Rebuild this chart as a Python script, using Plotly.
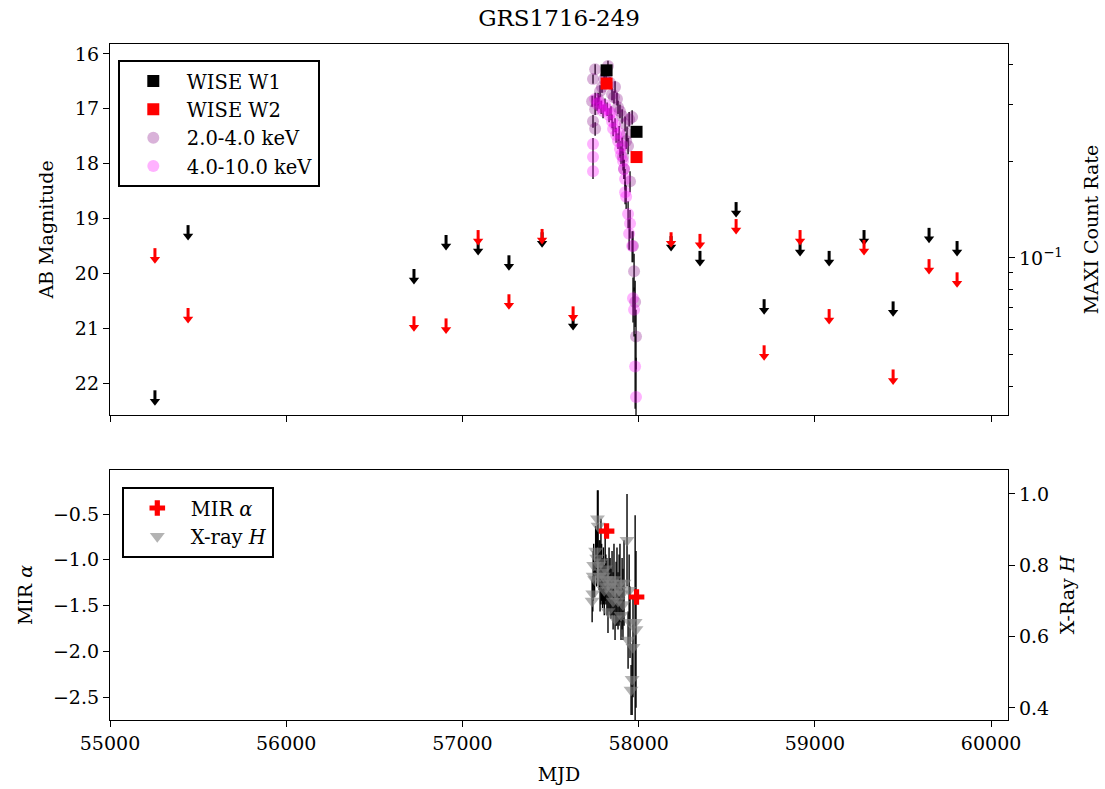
import plotly.graph_objects as go

FONT = "DejaVu Serif"

# ---------------- WISE upper limits (magnitudes) ----------------
ul_mjd = [55255, 55443, 56725, 56907, 57089, 57264, 57452, 57628, 58184,
          58348, 58553, 58712, 58916, 59081, 59279, 59444, 59648, 59807]
w1_ul = [22.33, 19.32, 20.12, 19.50, 19.59, 19.87, 19.45, 20.96, 19.52,
         19.79, 18.90, 20.67, 19.61, 19.79, 19.41, 20.71, 19.37, 19.61]
w2_ul = [19.74, 20.83, 20.98, 21.02, 19.41, 20.58, 19.39, 20.80, 19.45,
         19.48, 19.21, 21.51, 19.41, 20.85, 19.59, 21.95, 19.94, 20.18]

# ---------------- WISE detections ----------------
det_mjd = [57818, 57988]
w1_det = [16.30, 17.42]
w2_det = [16.54, 17.88]

# ---------------- MAXI 2-4 keV ----------------
soft_mjd = [57736, 57741, 57741, 57753, 57753, 57753, 57770, 57781, 57792, 57804,
            57815, 57826, 57838, 57849, 57860, 57866, 57877, 57883, 57894, 57906,
            57911, 57917, 57923, 57929, 57934, 57940, 57946, 57951, 57963, 57968,
            57974, 57980, 57985]
soft_rate = [0.307, 0.360, 0.266, 0.386, 0.290, 0.252, 0.312, 0.330, 0.340, 0.360,
             0.370, 0.395, 0.350, 0.323, 0.316, 0.340, 0.312, 0.294, 0.286, 0.276,
             0.206, 0.189, 0.261, 0.231, 0.243, 0.223, 0.270, 0.173, 0.274, 0.109,
             0.091, 0.073, 0.057]
soft_err = [0.012, 0.012, 0.012, 0.014, 0.012, 0.012, 0.014, 0.014, 0.014, 0.014,
            0.014, 0.015, 0.014, 0.014, 0.014, 0.014, 0.014, 0.014, 0.014, 0.014,
            0.013, 0.013, 0.014, 0.013, 0.013, 0.013, 0.014, 0.013, 0.014, 0.012,
            0.012, 0.012, 0.012]

# ---------------- MAXI 4-10 keV ----------------
hard_mjd = [57741, 57741, 57741, 57753, 57764, 57775, 57787, 57798, 57809, 57821,
            57832, 57843, 57849, 57855, 57866, 57872, 57883, 57889, 57894, 57900,
            57906, 57911, 57917, 57923, 57923, 57929, 57940, 57951, 57946, 57963,
            57968, 57974, 57980, 57985]
hard_rate = [0.226, 0.206, 0.186, 0.312, 0.301, 0.305, 0.294, 0.286, 0.299, 0.290,
             0.278, 0.282, 0.266, 0.252, 0.259, 0.241, 0.231, 0.244, 0.218, 0.209,
             0.224, 0.200, 0.189, 0.176, 0.160, 0.155, 0.137, 0.128, 0.119, 0.109,
             0.075, 0.069, 0.046, 0.037]
hard_err = [0.010, 0.010, 0.010, 0.014, 0.014, 0.014, 0.014, 0.014, 0.014, 0.014,
            0.014, 0.014, 0.013, 0.013, 0.013, 0.013, 0.013, 0.013, 0.013, 0.013,
            0.013, 0.013, 0.013, 0.013, 0.013, 0.013, 0.013, 0.013, 0.013, 0.012,
            0.012, 0.012, 0.012, 0.012]

# ---------------- MIR spectral index ----------------
alpha_mjd = [57818, 57988]
alpha_val = [-0.686, -1.407]
alpha_err = [0.02, 0.02]

# ---------------- X-ray hardness ----------------
h_mjd = [57736, 57740, 57742, 57745, 57750, 57756, 57762, 57766, 57770, 57776,
         57781, 57786, 57790, 57795, 57800, 57805, 57810, 57814, 57820, 57826,
         57832, 57838, 57843, 57849, 57855, 57860, 57866, 57872, 57877, 57883,
         57889, 57894, 57900, 57906, 57911, 57917, 57934, 57940, 57946, 57951,
         57957, 57963, 57968, 57980, 57985]
h_val = [0.70, 0.72, 0.77, 0.80, 0.76, 0.84, 0.82, 0.93, 0.91, 0.80,
         0.77, 0.81, 0.78, 0.75, 0.77, 0.73, 0.79, 0.76, 0.74, 0.67,
         0.76, 0.74, 0.72, 0.75, 0.70, 0.76, 0.65, 0.72, 0.74, 0.70,
         0.73, 0.75, 0.66, 0.72, 0.69, 0.75, 0.87, 0.59, 0.73, 0.64,
         0.45, 0.48, 0.57, 0.64, 0.62]
h_err = [0.06, 0.05, 0.07, 0.06, 0.05, 0.07, 0.08, 0.08, 0.10, 0.07,
         0.10, 0.12, 0.08, 0.07, 0.08, 0.07, 0.09, 0.07, 0.08, 0.06,
         0.09, 0.08, 0.07, 0.09, 0.08, 0.10, 0.06, 0.09, 0.11, 0.08,
         0.10, 0.11, 0.07, 0.10, 0.10, 0.12, 0.13, 0.08, 0.10, 0.10,
         0.07, 0.10, 0.14, 0.30, 0.22]

x_ticks = [55000, 56000, 57000, 58000, 59000, 60000]

FS = 19

fig = go.Figure()

# ---- top panel: MAXI on base (right, log) axis ----
fig.add_trace(go.Scatter(
    x=soft_mjd, y=soft_rate, mode="markers", name="2.0-4.0 keV",
    marker=dict(size=12, color="rgba(128,0,128,0.3)", line=dict(width=0)),
    error_y=dict(type="data", array=soft_err, color="black", thickness=1.3, width=0),
    xaxis="x", yaxis="y", legend="legend", legendrank=3))
fig.add_trace(go.Scatter(
    x=hard_mjd, y=hard_rate, mode="markers", name="4.0-10.0 keV",
    marker=dict(size=12, color="rgba(255,0,255,0.3)", line=dict(width=0)),
    error_y=dict(type="data", array=hard_err, color="black", thickness=1.3, width=0),
    xaxis="x", yaxis="y", legend="legend", legendrank=4))

# ---- WISE on magnitude axis (overlay, left) ----
stem = [0.2] * len(ul_mjd)
zero = [0] * len(ul_mjd)
fig.add_trace(go.Scatter(
    x=ul_mjd, y=w1_ul, mode="markers", showlegend=False,
    marker=dict(symbol="triangle-down", size=9, color="black"),
    error_y=dict(type="data", symmetric=False, array=zero, arrayminus=stem,
                 color="black", thickness=3, width=0),
    xaxis="x", yaxis="y2"))
fig.add_trace(go.Scatter(
    x=ul_mjd, y=w2_ul, mode="markers", showlegend=False,
    marker=dict(symbol="triangle-down", size=9, color="red"),
    error_y=dict(type="data", symmetric=False, array=zero, arrayminus=stem,
                 color="red", thickness=3, width=0),
    xaxis="x", yaxis="y2"))
fig.add_trace(go.Scatter(
    x=det_mjd, y=w1_det, mode="markers", name="WISE W1",
    marker=dict(symbol="square", size=12, color="black"),
    xaxis="x", yaxis="y2", legend="legend", legendrank=1))
fig.add_trace(go.Scatter(
    x=det_mjd, y=w2_det, mode="markers", name="WISE W2",
    marker=dict(symbol="square", size=12, color="red"),
    xaxis="x", yaxis="y2", legend="legend", legendrank=2))

# ---- bottom panel ----
fig.add_trace(go.Scatter(
    x=h_mjd, y=h_val, mode="markers", name="X-ray <i>H</i>",
    marker=dict(symbol="triangle-down", size=13, color="rgba(128,128,128,0.6)", line=dict(width=0)),
    error_y=dict(type="data", array=h_err, color="black", thickness=1.4, width=0),
    xaxis="x2", yaxis="y3", legend="legend2", legendrank=2))
fig.add_trace(go.Scatter(
    x=alpha_mjd, y=alpha_val, mode="markers", name="MIR <i>α</i>",
    marker=dict(symbol="cross", size=13, color="red", line=dict(width=0)),
    error_y=dict(type="data", array=alpha_err, color="red", thickness=1, width=0),
    xaxis="x2", yaxis="y4", legend="legend2", legendrank=1))

axis_common = dict(showgrid=False, zeroline=False, showline=True, linecolor="black",
                   linewidth=1.3, ticks="outside", ticklen=6, tickwidth=1.3,
                   automargin=False,
                   tickcolor="black", tickfont=dict(family=FONT, size=FS, color="black"))

W, H = 1105, 789
ml, mr, mt, mb = 110, 97, 44, 69
ph = H - mt - mb
top_dom = [(720 - 415) / ph, 1.0]
bot_dom = [0.0, (720 - 470) / ph]
tfont = dict(family=FONT, size=FS, color="black")
lfont = dict(family=FONT, size=19.5, color="black")

fig.update_layout(
    width=W, height=H,
    margin=dict(l=ml, r=mr, t=mt, b=mb, pad=0, autoexpand=False),
    paper_bgcolor="white", plot_bgcolor="white",
    font=dict(family=FONT, size=FS, color="black"),
    title=dict(text="GRS1716-249", x=0.5, xref="paper", xanchor="center",
               y=1 - 18 / H, yref="container", yanchor="middle",
               font=dict(family=FONT, size=23, color="black")),
    xaxis=dict(domain=[0, 1], anchor="y", range=[55000, 60096], tickvals=x_ticks,
               showticklabels=False, mirror=True, **axis_common),
    yaxis=dict(domain=top_dom, anchor="x", side="right", type="log",
               range=[-1.488, -0.335], tickvals=[0.1], ticktext=["10<sup>−1</sup>"],
               minor=dict(tickmode="array",
                          tickvals=[0.04, 0.05, 0.06, 0.07, 0.08, 0.09, 0.2, 0.3, 0.4],
                          ticks="outside", ticklen=3.5, tickwidth=1.1, tickcolor="black"),
               title=dict(text="MAXI Count Rate", standoff=22, font=tfont),
               **axis_common),
    yaxis2=dict(overlaying="y", anchor="x", side="left", range=[22.58, 15.82],
                tickvals=[16, 17, 18, 19, 20, 21, 22],
                title=dict(text="AB Magnitude", standoff=16, font=tfont),
                **axis_common),
    xaxis2=dict(domain=[0, 1], anchor="y3", range=[55000, 60096], tickvals=x_ticks,
                tickformat="d", mirror=True,
                title=dict(text="MJD", standoff=14, font=tfont),
                **axis_common),
    yaxis3=dict(domain=bot_dom, anchor="x2", side="right", range=[0.366, 1.067],
                tickvals=[0.4, 0.6, 0.8, 1.0], tickformat=".1f",
                title=dict(text="X-Ray <i>H</i>", standoff=12, font=tfont),
                **axis_common),
    yaxis4=dict(overlaying="y3", anchor="x2", side="left", range=[-2.751, -0.019],
                tickvals=[-2.5, -2.0, -1.5, -1.0, -0.5], tickformat=".1f",
                title=dict(text="MIR <i>α</i>", standoff=15, font=tfont),
                **axis_common),
    legend=dict(x=(118 - ml) / 898, y=(720 - 60) / ph, xanchor="left", yanchor="top",
                bordercolor="black", borderwidth=1.8, bgcolor="white",
                font=lfont, traceorder="normal", itemwidth=57),
    legend2=dict(x=(122 - ml) / 898, y=(720 - 487) / ph, xanchor="left", yanchor="top",
                 bordercolor="black", borderwidth=1.8, bgcolor="white",
                 font=lfont, traceorder="normal", itemwidth=57),
)

fig.write_html("out.html")
